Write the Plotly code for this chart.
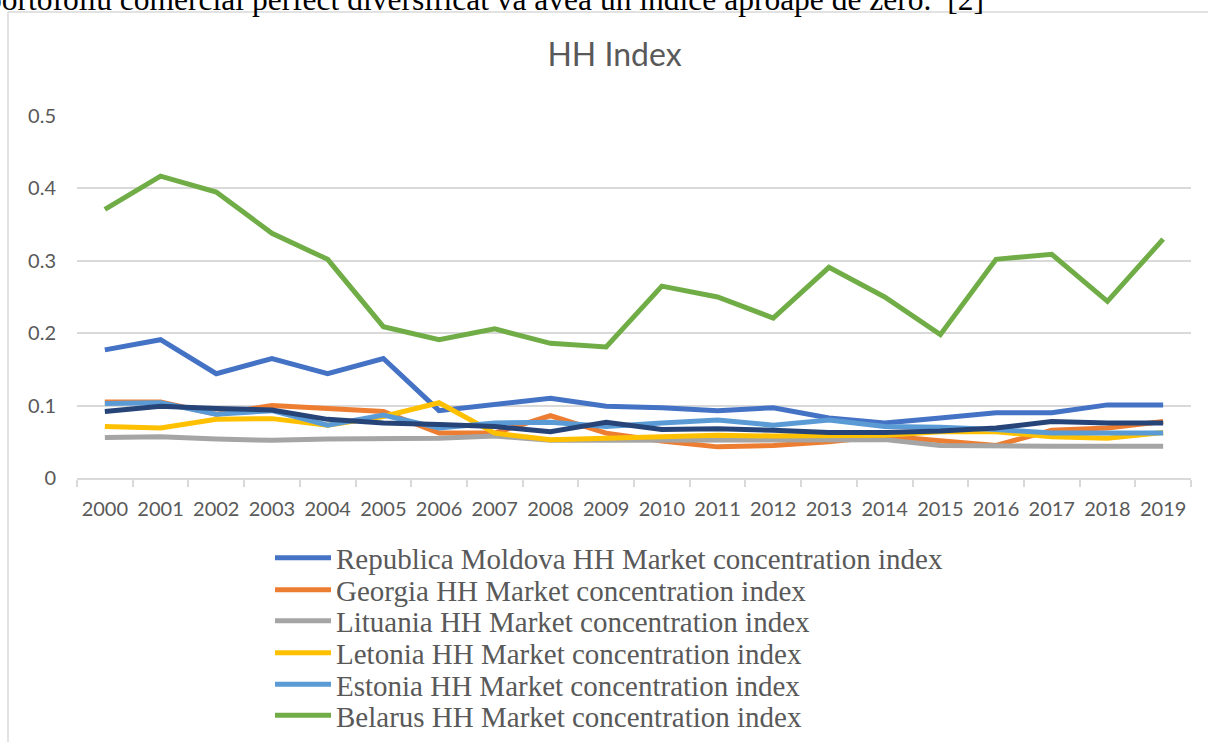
import plotly.graph_objects as go

years = [str(y) for y in range(2000, 2020)]

moldova = [0.177, 0.191, 0.144, 0.165, 0.144, 0.165, 0.093, 0.101, 0.110, 0.099,
           0.097, 0.093, 0.097, 0.083, 0.076, 0.083, 0.090, 0.090, 0.101, 0.101]
georgia = [0.105, 0.105, 0.088, 0.100, 0.096, 0.092, 0.062, 0.062, 0.086, 0.062,
           0.051, 0.043, 0.045, 0.050, 0.058, 0.051, 0.045, 0.066, 0.069, 0.078]
lithuania = [0.056, 0.057, 0.054, 0.052, 0.054, 0.055, 0.055, 0.058, 0.052, 0.052,
             0.052, 0.052, 0.052, 0.053, 0.053, 0.045, 0.044, 0.044, 0.044, 0.044]
latvia = [0.071, 0.069, 0.081, 0.082, 0.073, 0.085, 0.104, 0.062, 0.053, 0.055,
          0.058, 0.059, 0.058, 0.058, 0.059, 0.064, 0.064, 0.057, 0.055, 0.063]
estonia = [0.103, 0.104, 0.088, 0.093, 0.073, 0.087, 0.069, 0.076, 0.077, 0.071,
           0.076, 0.080, 0.073, 0.080, 0.071, 0.070, 0.067, 0.062, 0.062, 0.062]
belarus = [0.371, 0.417, 0.395, 0.338, 0.302, 0.209, 0.191, 0.206, 0.186, 0.181,
           0.265, 0.250, 0.221, 0.291, 0.250, 0.198, 0.302, 0.309, 0.244, 0.330]
series7 = [0.092, 0.099, 0.096, 0.094, 0.081, 0.076, 0.074, 0.071, 0.064, 0.077,
           0.067, 0.068, 0.066, 0.063, 0.063, 0.065, 0.069, 0.078, 0.076, 0.076]

series_names = [
    "Republica Moldova HH Market concentration index",
    "Georgia HH Market concentration index",
    "Lituania HH Market concentration index",
    "Letonia HH Market concentration index",
    "Estonia HH Market concentration index",
    "Belarus HH Market concentration index",
    "Seria 7 HH Market concentration index",
]
series_values = [moldova, georgia, lithuania, latvia, estonia, belarus, series7]
series_colors = ["#4472C4", "#ED7D31", "#A5A5A5", "#FFC000", "#5B9BD5", "#70AD47", "#264478"]

W, H = 1208, 742
L, R, T, B = 77, 1191, 116, 478  # plot area in pixels


def px_x(p):
    return (p - L) / (R - L)


def px_y(p):
    return (B - p) / (B - T)


legend_rows = [558, 590, 621, 653, 684.5, 715.5]  # legend row centres (px)

fig = go.Figure()
layout_legends = {}
for i, (name, vals, color) in enumerate(zip(series_names, series_values, series_colors)):
    show = i < len(legend_rows)
    lg = "legend" if i == 0 else f"legend{i + 1}"
    fig.add_trace(go.Scatter(
        x=years, y=vals, name=name, mode="lines",
        line=dict(color=color, width=5),
        showlegend=show, legend=lg,
    ))
    if show:
        layout_legends[lg] = dict(
            x=px_x(270), xanchor="left", y=px_y(legend_rows[i]), yanchor="middle",
            font=dict(family="Liberation Serif", size=29, color="#595959"),
            bgcolor="rgba(0,0,0,0)", itemwidth=56, borderwidth=0,
        )

fig.update_layout(
    width=W, height=H, showlegend=True,
    margin=dict(l=L, r=W - R, t=T, b=H - B, autoexpand=False),
    paper_bgcolor="white", plot_bgcolor="white",
    title=dict(text="HH Index", x=614.5 / W, xanchor="center", xref="container",
               y=1 - 55 / H, yanchor="middle", yref="container",
               font=dict(family="Lato", size=32, color="#595959")),
    xaxis=dict(type="category", range=[-0.5, 19.5], showgrid=False,
               showline=True, linecolor="#D9D9D9", linewidth=1.5,
               ticks="outside", tickson="boundaries", ticklen=7, tickcolor="#D9D9D9",
               tickwidth=1.5, tickangle=0, automargin=False, ticklabelstandoff=12,
               tickfont=dict(family="Lato", size=20, color="#595959"),
               zeroline=False),
    yaxis=dict(range=[0, 0.5], tickvals=[0, 0.1, 0.2, 0.3, 0.4, 0.5],
               ticktext=["0", "0.1", "0.2", "0.3", "0.4", "0.5"],
               showgrid=True, gridcolor="#D9D9D9", gridwidth=1.5,
               zeroline=False, showline=False, ticklabelstandoff=20, automargin=False,
               tickfont=dict(family="Lato", size=20, color="#595959")),
    shapes=[
        dict(type="line", xref="paper", yref="paper", x0=px_x(8), x1=px_x(8),
             y0=px_y(12), y1=px_y(760), line=dict(color="#D9D9D9", width=1.5)),
        dict(type="line", xref="paper", yref="paper", x0=px_x(8), x1=px_x(1220),
             y0=px_y(12), y1=px_y(12), line=dict(color="#D9D9D9", width=1.5)),
    ],
    annotations=[
        dict(text="portofoliu comercial perfect diversificat va avea un indice aproape de zero.  [2]",
             xref="paper", yref="paper", x=px_x(-16), y=px_y(19),
             xanchor="left", yanchor="bottom", showarrow=False,
             font=dict(family="Liberation Serif", size=31.5, color="black")),
    ],
    **layout_legends,
)

fig.write_html(
    "out.html",
    config={"displayModeBar": False},
    post_script="document.body.style.margin='0';document.body.style.overflow='hidden';",
)
